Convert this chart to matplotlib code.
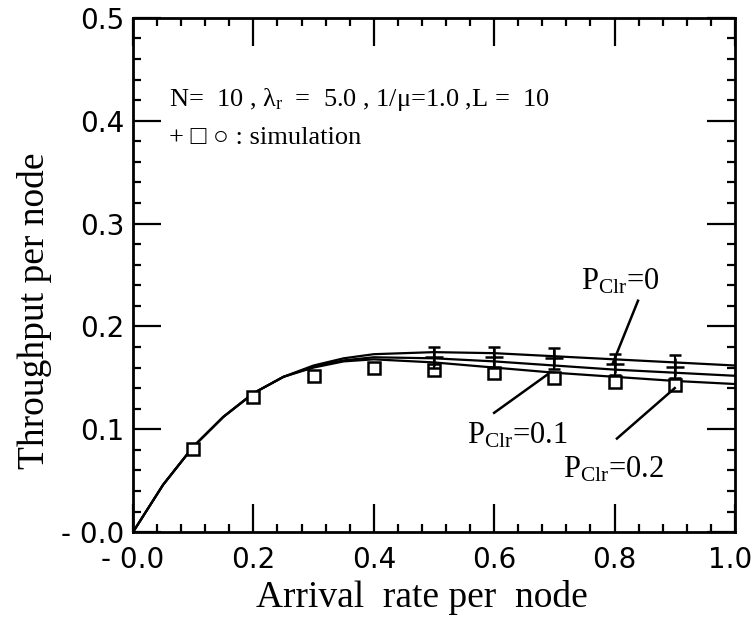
import matplotlib
matplotlib.use('Agg')
import matplotlib.pyplot as plt
import matplotlib.transforms as mtransforms
from matplotlib.ticker import MultipleLocator

# analytical curves (throughput vs arrival rate)
x_curve = [0.0, 0.05, 0.1, 0.15, 0.2, 0.25, 0.3, 0.35, 0.4, 0.5, 0.6, 0.7, 0.8, 0.9, 1.0]
y_p0 = [0.0, 0.046, 0.083, 0.112, 0.135, 0.151, 0.162, 0.169, 0.173, 0.175, 0.174, 0.171, 0.168, 0.165, 0.162]
y_p01 = [0.0, 0.046, 0.083, 0.112, 0.135, 0.151, 0.161, 0.167, 0.170, 0.169, 0.166, 0.162, 0.158, 0.155, 0.152]
y_p02 = [0.0, 0.046, 0.083, 0.112, 0.135, 0.151, 0.160, 0.166, 0.168, 0.165, 0.160, 0.155, 0.151, 0.147, 0.144]

# simulation points
x_sq = [0.1, 0.2, 0.3, 0.4, 0.5, 0.6, 0.7, 0.8, 0.9]
y_sq = [0.081, 0.131, 0.152, 0.160, 0.158, 0.155, 0.150, 0.146, 0.143]
x_plus = [0.5, 0.6, 0.7, 0.8, 0.9]
y_plus = [0.170, 0.170, 0.169, 0.163, 0.161]
err_plus = [0.010, 0.010, 0.010, 0.010, 0.011]

x_ticks = [0.0, 0.2, 0.4, 0.6, 0.8, 1.0]
x_ticklabels = ['- 0.0', '0.2', '0.4', '0.6', '0.8', '1.0']
y_ticks = [0.0, 0.1, 0.2, 0.3, 0.4, 0.5]
y_ticklabels = ['- 0.0', '0.1', '0.2', '0.3', '0.4', '0.5']

plt.rcParams['mathtext.fontset'] = 'custom'
plt.rcParams['mathtext.rm'] = 'Liberation Serif'
plt.rcParams['mathtext.it'] = 'Liberation Serif'

fig = plt.figure(figsize=(7.53, 6.18), dpi=100)
ax = fig.add_axes([0.1766, 0.139, 0.7994, 0.832])

ax.plot(x_curve, y_p0, color='black', lw=1.6)
ax.plot(x_curve, y_p01, color='black', lw=1.6)
ax.plot(x_curve, y_p02, color='black', lw=1.6)

ax.plot(x_sq, y_sq, linestyle='none', marker='s', markersize=9,
        markerfacecolor='white', markeredgecolor='black', markeredgewidth=1.8)
ax.errorbar(x_plus, y_plus, yerr=err_plus, fmt='+', color='black',
            markersize=13, markeredgewidth=1.8, elinewidth=1.5, capsize=4, capthick=1.8)

# annotations
serif = ['Liberation Serif', 'DejaVu Serif']
ax.plot([0.839, 0.797], [0.225, 0.164], color='black', lw=1.8)
ax.text(0.745, 0.243, r'P$_{\mathrm{Clr}}$=0', fontsize=22, family=serif, va='center')
ax.plot([0.60, 0.688], [0.116, 0.153], color='black', lw=1.8)
ax.text(0.555, 0.094, r'P$_{\mathrm{Clr}}$=0.1', fontsize=22, family=serif, va='center')
ax.plot([0.804, 0.90], [0.091, 0.140], color='black', lw=1.8)
ax.text(0.714, 0.061, r'P$_{\mathrm{Clr}}$=0.2', fontsize=22, family=serif, va='center')

ax.text(0.06, 0.421, r'N=  10 , $\lambda_{\mathrm{r}}$  =  5.0 , 1/$\mu$=1.0 ,L =  10',
        fontsize=19, family=serif, va='center')
ax.text(0.06, 0.383, '+ \u25a1 \u25cb : simulation', fontsize=19,
        family=['Liberation Serif', 'DejaVu Sans'], va='center')

ax.set_xlim(0, 1.0)
ax.set_ylim(0, 0.5)
ax.set_xticks(x_ticks)
ax.set_xticklabels(x_ticklabels)
ax.set_yticks(y_ticks)
ax.set_yticklabels(y_ticklabels)
ax.xaxis.set_minor_locator(MultipleLocator(0.04))
ax.yaxis.set_minor_locator(MultipleLocator(0.02))
ax.tick_params(which='both', direction='in', top=True, right=True, width=1.6, color='black')
ax.tick_params(which='major', length=20, labelsize=20)
ax.tick_params(axis='x', which='major', pad=10)
ax.tick_params(axis='y', which='major', pad=6)
ax.tick_params(which='minor', length=6)
for sp in ax.spines.values():
    sp.set_linewidth(2)

# keep the last x tick label inside the figure
last = ax.get_xticklabels()[-1]
last.set_transform(last.get_transform() +
                   mtransforms.ScaledTranslation(-5 / 100, 0, fig.dpi_scale_trans))

ax.set_xlabel('Arrival  rate per  node', fontsize=27, family=serif)
ax.set_ylabel('Throughput per node', fontsize=27, family=serif)
ax.xaxis.set_label_coords(0.48, -0.093)
ax.yaxis.set_label_coords(-0.135, 0.43)

fig.savefig('out.png', dpi=100)
